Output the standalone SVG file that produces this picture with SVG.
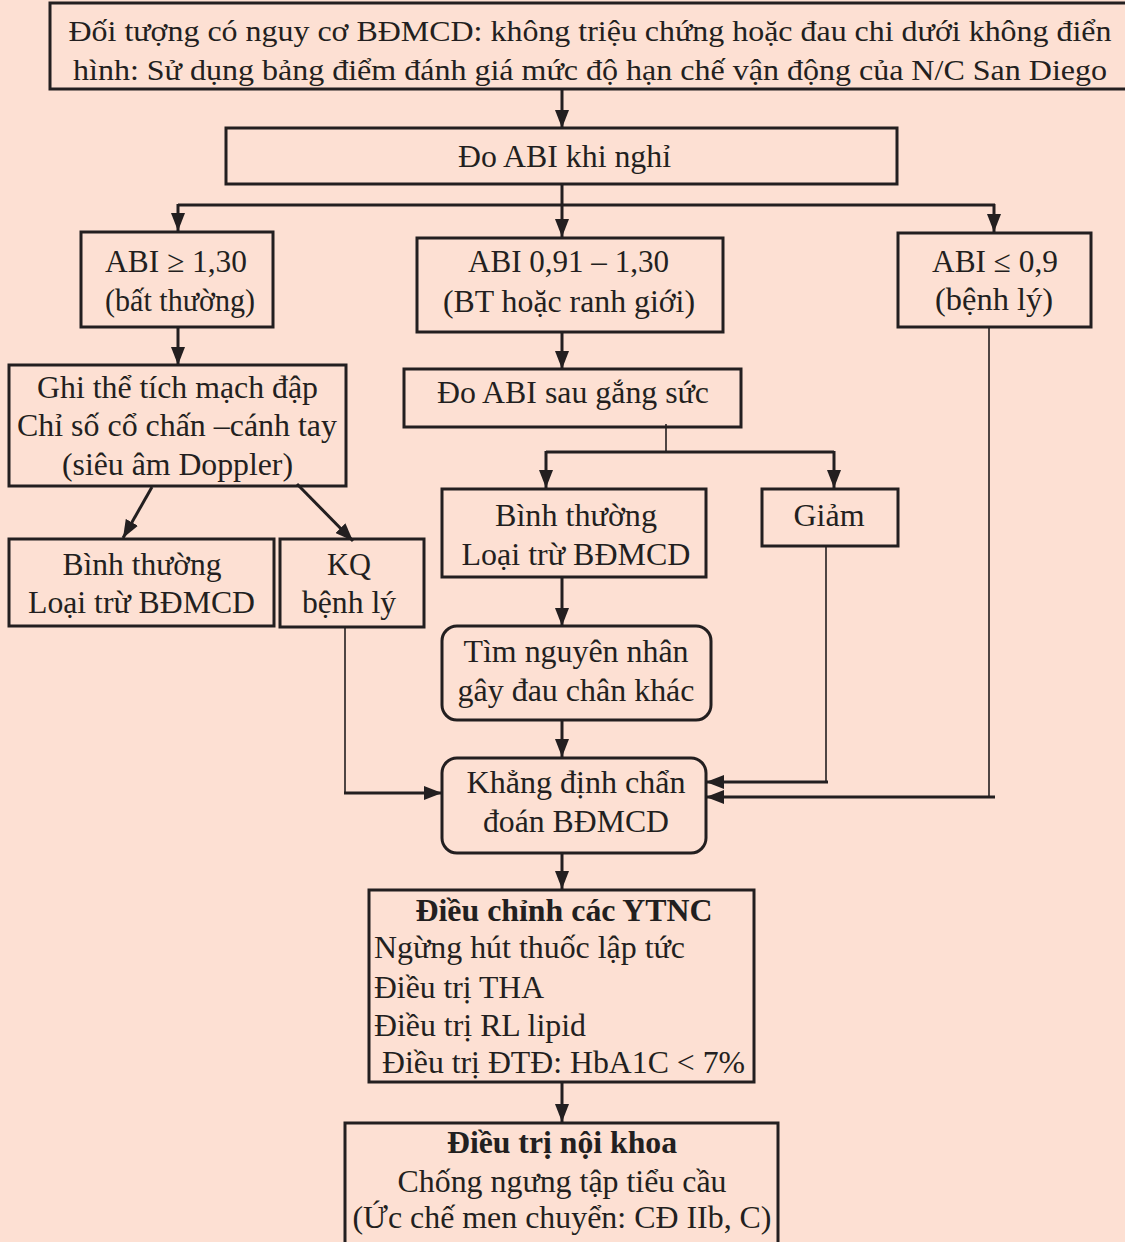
<svg xmlns="http://www.w3.org/2000/svg" width="1125" height="1242" viewBox="0 0 1125 1242">
<defs>
<marker id="ah" viewBox="0 0 18 14" refX="18" refY="7" markerWidth="18" markerHeight="14" markerUnits="userSpaceOnUse" orient="auto"><path d="M0,0 L18,7 L0,14 Z" fill="#231f20"/></marker>
<style>
.bx{fill:none;stroke:#231f20;stroke-width:3}
.t{font-family:"Liberation Serif","Times New Roman",serif;font-size:31px;fill:#231f20;text-anchor:middle}
.s{font-size:30px}
.l{text-anchor:start}
.b{font-weight:bold}
.c{stroke:#231f20;stroke-width:3;fill:none}
.th{stroke:#231f20;stroke-width:1.6;fill:none}
.a{marker-end:url(#ah)}
</style>
</defs>
<rect width="1125" height="1242" fill="#fde0d3"/>
<g id="n-top"><rect class="bx" x="50" y="3" width="1090" height="86"/>
<text class="t s" x="590" y="41" textLength="1043" lengthAdjust="spacingAndGlyphs">Đối tượng có nguy cơ BĐMCD: không triệu chứng hoặc đau chi dưới không điển</text>
<text class="t s" x="590" y="80" textLength="1034" lengthAdjust="spacingAndGlyphs">hình: Sử dụng bảng điểm đánh giá mức độ hạn chế vận động của N/C San Diego</text></g>
<g id="n-abirest"><rect class="bx" x="226" y="128" width="671" height="56"/>
<text class="t" x="564.5" y="167" textLength="213" lengthAdjust="spacingAndGlyphs">Đo ABI khi nghỉ</text></g>
<g id="n-abi130"><rect class="bx" x="81" y="232" width="192" height="95"/>
<text class="t" x="176" y="272" textLength="142" lengthAdjust="spacingAndGlyphs">ABI ≥ 1,30</text>
<text class="t" x="180" y="311" textLength="150" lengthAdjust="spacingAndGlyphs">(bất thường)</text></g>
<g id="n-abimid"><rect class="bx" x="417" y="238" width="306" height="94"/>
<text class="t" x="568.5" y="272" textLength="201" lengthAdjust="spacingAndGlyphs">ABI 0,91 – 1,30</text>
<text class="t" x="569" y="312" textLength="252" lengthAdjust="spacingAndGlyphs">(BT hoặc ranh giới)</text></g>
<g id="n-abi09"><rect class="bx" x="898" y="233" width="193" height="94"/>
<text class="t" x="995" y="272" textLength="126" lengthAdjust="spacingAndGlyphs">ABI ≤ 0,9</text>
<text class="t" x="994" y="310" textLength="118" lengthAdjust="spacingAndGlyphs">(bệnh lý)</text></g>
<g id="n-ghi"><rect class="bx" x="9" y="365" width="337" height="121"/>
<text class="t" x="177.5" y="398" textLength="281" lengthAdjust="spacingAndGlyphs">Ghi thể tích mạch đập</text>
<text class="t" x="177" y="436" textLength="320" lengthAdjust="spacingAndGlyphs">Chỉ số cổ chấn –cánh tay</text>
<text class="t" x="177.5" y="475" textLength="231" lengthAdjust="spacingAndGlyphs">(siêu âm Doppler)</text></g>
<g id="n-bt1"><rect class="bx" x="9" y="539" width="265" height="87"/>
<text class="t" x="142" y="575" textLength="159" lengthAdjust="spacingAndGlyphs">Bình thường</text>
<text class="t" x="141.5" y="613" textLength="227" lengthAdjust="spacingAndGlyphs">Loại trừ BĐMCD</text></g>
<g id="n-kq"><rect class="bx" x="280" y="539" width="144" height="88"/>
<text class="t" x="349" y="575" textLength="44" lengthAdjust="spacingAndGlyphs">KQ</text>
<text class="t" x="349" y="613" textLength="94" lengthAdjust="spacingAndGlyphs">bệnh lý</text></g>
<g id="n-gs"><rect class="bx" x="404" y="369" width="337" height="58"/>
<text class="t" x="573" y="403" textLength="272" lengthAdjust="spacingAndGlyphs">Đo ABI sau gắng sức</text></g>
<g id="n-bt2"><rect class="bx" x="442" y="489" width="264" height="88"/>
<text class="t" x="576" y="526" textLength="162" lengthAdjust="spacingAndGlyphs">Bình thường</text>
<text class="t" x="576" y="565" textLength="229" lengthAdjust="spacingAndGlyphs">Loại trừ BĐMCD</text></g>
<g id="n-giam"><rect class="bx" x="762" y="489" width="136" height="57"/>
<text class="t" x="829" y="526" textLength="71" lengthAdjust="spacingAndGlyphs">Giảm</text></g>
<g id="n-tim"><rect class="bx" x="442" y="626" width="269" height="94" rx="15"/>
<text class="t" x="576" y="662" textLength="225" lengthAdjust="spacingAndGlyphs">Tìm nguyên nhân</text>
<text class="t" x="576" y="701" textLength="237" lengthAdjust="spacingAndGlyphs">gây đau chân khác</text></g>
<g id="n-kd"><rect class="bx" x="442" y="758" width="264" height="95" rx="15"/>
<text class="t" x="576" y="793" textLength="219" lengthAdjust="spacingAndGlyphs">Khẳng định chẩn</text>
<text class="t" x="576" y="832" textLength="186" lengthAdjust="spacingAndGlyphs">đoán BĐMCD</text></g>
<g id="n-dc"><rect class="bx" x="369" y="890" width="385" height="192"/>
<text class="t b" x="564" y="921" textLength="297" lengthAdjust="spacingAndGlyphs">Điều chỉnh các YTNC</text>
<text class="t l" x="374" y="958" textLength="311" lengthAdjust="spacingAndGlyphs">Ngừng hút thuốc lập tức</text>
<text class="t l" x="374" y="998" textLength="170" lengthAdjust="spacingAndGlyphs">Điều trị THA</text>
<text class="t l" x="374" y="1036" textLength="212" lengthAdjust="spacingAndGlyphs">Điều trị RL lipid</text>
<text class="t l" x="382" y="1073" textLength="363" lengthAdjust="spacingAndGlyphs">Điều trị ĐTĐ: HbA1C &lt; 7%</text></g>
<g id="n-nk"><rect class="bx" x="345" y="1123" width="433" height="125"/>
<text class="t b" x="562" y="1153" textLength="230" lengthAdjust="spacingAndGlyphs">Điều trị nội khoa</text>
<text class="t" x="562" y="1192" textLength="329" lengthAdjust="spacingAndGlyphs">Chống ngưng tập tiểu cầu</text>
<text class="t" x="562" y="1228" textLength="419" lengthAdjust="spacingAndGlyphs">(Ức chế men chuyển: CĐ IIb, C)</text></g>
<g id="connectors">
<path class="c a" d="M562,89 V128"/>
<path class="c a" d="M562,184 V237"/>
<path class="c" d="M178,205 H995"/>
<path class="c a" d="M178,204 V231"/>
<path class="c a" d="M994,204 V232"/>
<path class="c a" d="M178,327 V365"/>
<path class="c a" d="M562,332 V369"/>
<path class="c a" d="M152,487 L123,538"/>
<path class="c a" d="M297,484 L353,541"/>
<path class="th" d="M666,424 V452"/>
<path class="c" d="M546,452 H834"/>
<path class="c a" d="M546,451 V488"/>
<path class="c a" d="M834,451 V488"/>
<path class="c a" d="M562,577 V626"/>
<path class="c a" d="M562,720 V757"/>
<path class="th" d="M345,627 V793"/>
<path class="c a" d="M344,793 H442"/>
<path class="th" d="M826,546 V782"/>
<path class="c a" d="M828,782 H706"/>
<path class="th" d="M989,327 V797"/>
<path class="c a" d="M995,797 H706"/>
<path class="c a" d="M562,853 V889"/>
<path class="c a" d="M562,1082 V1122"/>
</g>
</svg>
